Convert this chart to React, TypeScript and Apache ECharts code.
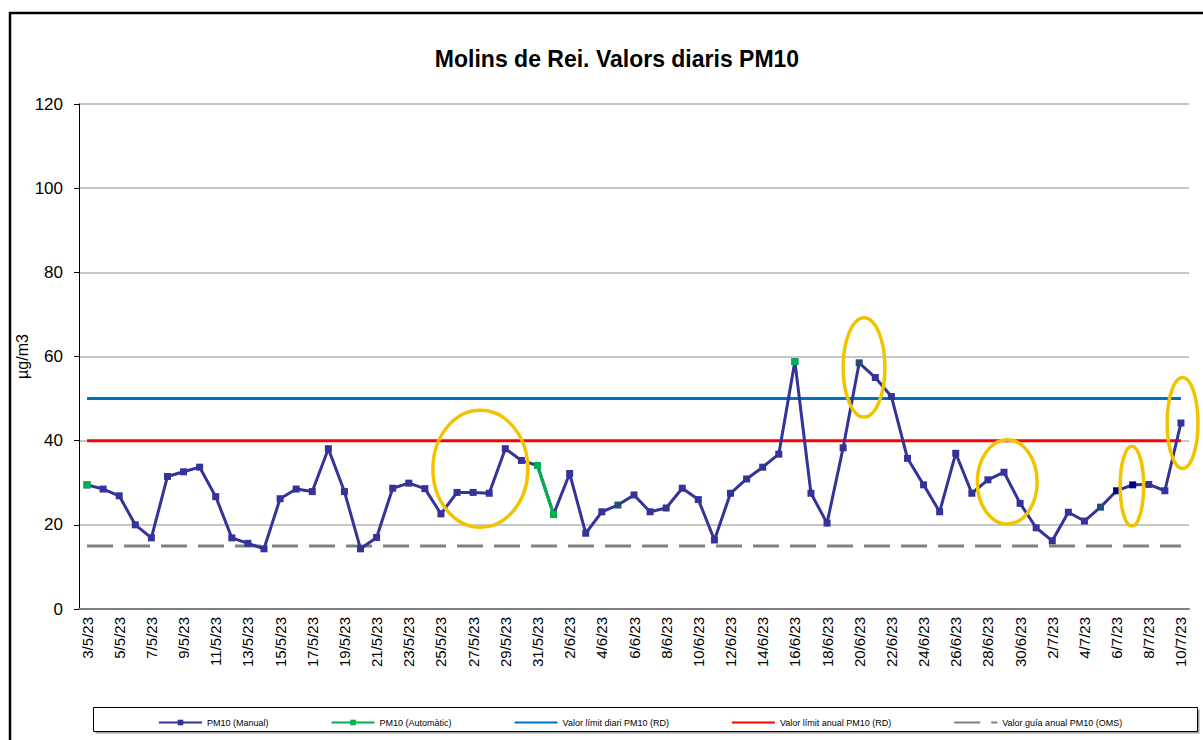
import React, { useEffect, useRef } from "react";
import * as echarts from "echarts";

const categories: string[] = [
  "3/5/23", "4/5/23", "5/5/23", "6/5/23", "7/5/23", "8/5/23", "9/5/23", "10/5/23", "11/5/23", "12/5/23",
  "13/5/23", "14/5/23", "15/5/23", "16/5/23", "17/5/23", "18/5/23", "19/5/23", "20/5/23", "21/5/23", "22/5/23",
  "23/5/23", "24/5/23", "25/5/23", "26/5/23", "27/5/23", "28/5/23", "29/5/23", "30/5/23", "31/5/23",
  "1/6/23", "2/6/23", "3/6/23", "4/6/23", "5/6/23", "6/6/23", "7/6/23", "8/6/23", "9/6/23", "10/6/23",
  "11/6/23", "12/6/23", "13/6/23", "14/6/23", "15/6/23", "16/6/23", "17/6/23", "18/6/23", "19/6/23", "20/6/23",
  "21/6/23", "22/6/23", "23/6/23", "24/6/23", "25/6/23", "26/6/23", "27/6/23", "28/6/23", "29/6/23", "30/6/23",
  "1/7/23", "2/7/23", "3/7/23", "4/7/23", "5/7/23", "6/7/23", "7/7/23", "8/7/23", "9/7/23", "10/7/23",
];

const pm10Manual: number[] = [
  29.5, 28.5, 26.9, 20.0, 16.9, 31.5, 32.6, 33.7, 26.7, 16.9,
  15.6, 14.3, 26.2, 28.5, 27.9, 38.1, 27.9, 14.3, 17.0, 28.7,
  29.9, 28.6, 22.6, 27.7, 27.7, 27.5, 38.1, 35.3, 34.1,
  22.5, 32.2, 18.0, 23.1, 24.7, 27.1, 23.1, 24.0, 28.7, 26.0,
  16.4, 27.5, 30.9, 33.7, 36.8, 58.8, 27.5, 20.4, 38.3, 58.5,
  55.0, 50.5, 35.8, 29.5, 23.1, 37.0, 27.5, 30.7, 32.5, 25.1,
  19.3, 16.2, 23.0, 20.9, 24.2, 28.1, 29.5, 29.6, 28.1, 44.2,
];

// Automatic values only on the days where the automatic analyser is shown
const pm10Automatic: (number | null)[] = [
  29.5, null, null, null, null, null, null, null, null, null,
  null, null, null, null, null, null, null, null, null, null,
  null, null, null, null, null, null, null, null, 34.1,
  22.5, null, null, null, null, null, null, null, null, null,
  null, null, null, null, null, 58.8, null, null, null, null,
  null, null, null, null, null, null, null, null, null, null,
  null, null, null, null, null, null, null, null, null, null,
];

const limitDiari = 50;
const limitAnual = 40;
const guiaAnual = 15;

const seriesNames = [
  "PM10 (Manual)",
  "PM10 (Automàtic)",
  "Valor límit diari PM10 (RD)",
  "Valor límit anual PM10 (RD)",
  "Valor guía anual PM10 (OMS)",
];

const yTicks = { min: 0, max: 120, interval: 20 };

// highlighted ellipses: [centre day index, centre value, half-width in days, half-height in value units]
const highlights: number[][] = [
  [24.45, 33.3, 2.95, 13.9],
  [48.3, 57.4, 1.3, 11.8],
  [57.2, 30.2, 1.86, 10.0],
  [64.95, 29.2, 0.73, 9.5],
  [68.1, 44.2, 0.96, 10.8],
];

// style: individual marker colours
const markerColors: Record<number, string> = {
  33: "#1F4E79",
  48: "#1F4E79",
  63: "#1F4E79",
  64: "#000080",
  65: "#000080",
};

const FONT = "Liberation Sans, Arial, Helvetica, sans-serif";

export default function App() {
  const ref = useRef<HTMLDivElement>(null);

  useEffect(() => {
    if (!ref.current) return;
    const chart = echarts.init(ref.current, null, { renderer: "svg" });

    const manualData = pm10Manual.map((v, i) =>
      markerColors[i] ? { value: v, itemStyle: { color: markerColors[i] } } : v
    );

    const option: any = {
      animation: false,
      backgroundColor: "#ffffff",
      textStyle: { fontFamily: FONT },
      grid: { left: 79, right: 14, top: 104, bottom: 131 },
      legend: {
        left: 153,
        top: 713,
        itemGap: 62,
        itemWidth: 43,
        itemHeight: 7,
        z: 6,
        textStyle: { fontSize: 9, color: "#000", fontFamily: FONT },
        data: [
          { name: seriesNames[0] },
          { name: seriesNames[1] },
          { name: seriesNames[2], itemStyle: { opacity: 0 } },
          { name: seriesNames[3], itemStyle: { opacity: 0 } },
          { name: seriesNames[4], itemStyle: { opacity: 0 } },
        ],
      },
      xAxis: {
        type: "category",
        data: categories,
        boundaryGap: true,
        axisLine: { lineStyle: { color: "#808080", width: 2 } },
        axisTick: { interval: 1, length: 5, lineStyle: { color: "#808080", width: 1 } },
        axisLabel: { interval: 1, rotate: 90, fontSize: 15, color: "#000", margin: 8, fontFamily: FONT },
        splitLine: { show: false },
      },
      yAxis: {
        type: "value",
        min: yTicks.min,
        max: yTicks.max,
        interval: yTicks.interval,
        name: "µg/m3",
        nameLocation: "middle",
        nameGap: 49,
        nameMoveOverlap: false,
        nameTextStyle: { fontSize: 16, color: "#000", fontFamily: FONT },
        axisLine: { show: true, lineStyle: { color: "#000", width: 1 } },
        axisTick: { show: true, length: 5, lineStyle: { color: "#000" } },
        axisLabel: { fontSize: 17, color: "#000", margin: 16, fontFamily: FONT },
        splitLine: { show: true, lineStyle: { color: "#B4B4B4", width: 1.5 } },
      },
      series: [
        {
          name: seriesNames[0],
          type: "line",
          data: manualData,
          color: "#333399",
          symbol: "rect",
          symbolSize: 7,
          showAllSymbol: true,
          lineStyle: { width: 3, color: "#333399" },
          itemStyle: { color: "#333399" },
          z: 4,
        },
        {
          name: seriesNames[1],
          type: "line",
          data: pm10Automatic,
          color: "#00B050",
          symbol: "rect",
          symbolSize: 7,
          showAllSymbol: true,
          connectNulls: false,
          lineStyle: { width: 3, color: "#00B050" },
          itemStyle: { color: "#00B050" },
          z: 5,
        },
        {
          name: seriesNames[2],
          type: "line",
          data: categories.map(() => limitDiari),
          color: "#0070C0",
          symbol: "none",
          lineStyle: { width: 3, color: "#0070C0" },
          z: 3,
        },
        {
          name: seriesNames[3],
          type: "line",
          data: categories.map(() => limitAnual),
          color: "#FF0000",
          symbol: "none",
          lineStyle: { width: 3, color: "#FF0000" },
          z: 3,
        },
        {
          name: seriesNames[4],
          type: "line",
          data: categories.map(() => guiaAnual),
          color: "#808080",
          symbol: "none",
          lineStyle: { width: 3, color: "#808080", type: [26, 11] },
          z: 3,
        },
      ],
    };

    chart.setOption(option);

    const px0 = chart.convertToPixel({ xAxisIndex: 0 }, 0) as number;
    const pxN = chart.convertToPixel({ xAxisIndex: 0 }, categories.length - 1) as number;
    const step = (pxN - px0) / (categories.length - 1);
    const yPix = (v: number) => chart.convertToPixel({ yAxisIndex: 0 }, v) as number;
    const yUnit = yPix(0) - yPix(1);

    const ellipses = highlights.map((h, i) => ({
      type: "ellipse",
      id: "hl" + i,
      z: 20,
      silent: true,
      shape: {
        cx: px0 + h[0] * step,
        cy: yPix(h[1]),
        rx: h[2] * step,
        ry: h[3] * yUnit,
      },
      style: { fill: "none", stroke: "#F2C300", lineWidth: 3.5 },
    }));

    chart.setOption({
      graphic: [
        {
          type: "rect",
          id: "frame",
          z: 0,
          silent: true,
          shape: { x: 10, y: 13, width: 1400, height: 1000 },
          style: { fill: "none", stroke: "#000", lineWidth: 2.5 },
        },
        {
          type: "rect",
          id: "legendShadow",
          z: 0,
          silent: true,
          shape: { x: 95.5, y: 709.5, width: 1104, height: 24 },
          style: { fill: "#A0A0A0", stroke: "none" },
        },
        {
          type: "rect",
          id: "legendBox",
          z: 1,
          silent: true,
          shape: { x: 93.5, y: 707.5, width: 1104, height: 24 },
          style: { fill: "#fff", stroke: "#000", lineWidth: 1 },
        },
        {
          type: "text",
          id: "title",
          z: 10,
          x: 617,
          y: 59,
          style: {
            text: "Molins de Rei. Valors diaris PM10",
            font: "bold 23px " + FONT,
            fill: "#000",
            align: "center",
            verticalAlign: "middle",
          },
        },
        ...ellipses,
      ],
    });

    return () => chart.dispose();
  }, []);

  return (
    <div
      ref={ref}
      style={{ position: "fixed", left: 0, top: 0, width: 1203, height: 740, background: "#fff" }}
    />
  );
}
